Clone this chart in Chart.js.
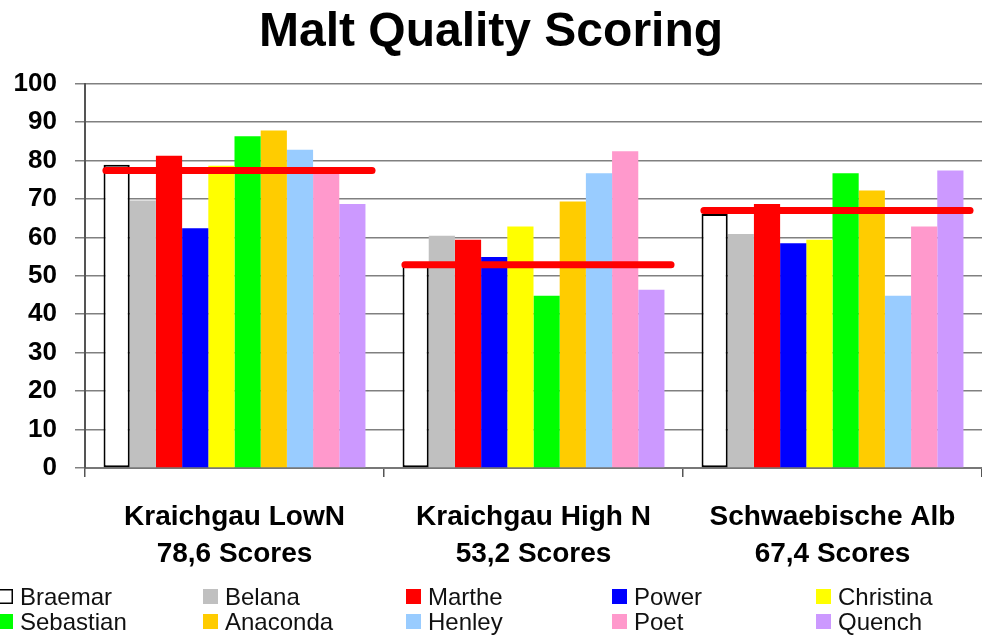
<!DOCTYPE html>
<html>
<head>
<meta charset="utf-8">
<title>Malt Quality Scoring</title>
<script src="https://cdn.jsdelivr.net/npm/chart.js@4.4.1/dist/chart.umd.min.js"></script>
<style>
  html, body { margin: 0; padding: 0; background: #fff; }
  #wrap { width: 982px; height: 637px; }
</style>
</head>
<body>
<div id="wrap"><canvas id="malt"></canvas></div>
<script>
// categories (locations) and the mean score written under each one
const categories = ["Kraichgau LowN", "Kraichgau High N", "Schwaebische Alb"];
const scoreLabels = ["78,6 Scores", "53,2 Scores", "67,4 Scores"];
// level of the red mean line, as drawn in the picture
const scoreLevels = [77.4, 52.9, 67.0];
const yTicks = [0, 10, 20, 30, 40, 50, 60, 70, 80, 90, 100];

// one value per location, per variety
const braemar   = [78.9, 53.3, 66.1];
const belana    = [69.6, 60.4, 60.9];
const marthe    = [81.2, 59.4, 68.7];
const power     = [62.4, 54.9, 58.5];
const christina = [78.6, 62.8, 59.4];
const sebastian = [86.3, 44.8, 76.7];
const anaconda  = [87.8, 69.3, 72.2];
const henley    = [82.8, 76.7, 44.8];
const poet      = [76.5, 82.4, 62.8];
const quench    = [68.7, 46.4, 77.4];

const varieties = [
    { label: "Braemar",   data: braemar,   color: "#ffffff", border: "#000000" },
    { label: "Belana",    data: belana,    color: "#c0c0c0" },
    { label: "Marthe",    data: marthe,    color: "#ff0000" },
    { label: "Power",     data: power,     color: "#0000ff" },
    { label: "Christina", data: christina, color: "#ffff00" },
    { label: "Sebastian", data: sebastian, color: "#00ff00" },
    { label: "Anaconda",  data: anaconda,  color: "#ffcc00" },
    { label: "Henley",    data: henley,    color: "#99ccff" },
    { label: "Poet",      data: poet,      color: "#ff99cc" },
    { label: "Quench",    data: quench,    color: "#cc99ff" }
];

// ===== red mean line per location =====
const meanLinePlugin = {
    id: "meanLine",
    afterDatasetsDraw(chart) {
        const { ctx, scales: { x, y } } = chart;
        const w = x.width / categories.length;
        ctx.save();
        ctx.strokeStyle = "#ff0000";
        ctx.lineWidth = 7;
        ctx.lineCap = "round";
        scoreLevels.forEach((v, i) => {
            const cx = x.getPixelForValue(i);
            const py = y.getPixelForValue(v);
            ctx.beginPath();
            ctx.moveTo(cx - w * 0.43, py);
            ctx.lineTo(cx + w * 0.46, py);
            ctx.stroke();
        });
        ctx.restore();
    }
};

// ===== 5-column legend grid under the axis =====
const gridLegendPlugin = {
    id: "gridLegend",
    afterDraw(chart) {
        const { ctx } = chart;
        const colX = [-2, 203, 406, 612, 816];
        const rowY = [597, 622];
        ctx.save();
        ctx.font = "24px 'Liberation Sans', Arial, sans-serif";
        ctx.textBaseline = "middle";
        ctx.textAlign = "left";
        chart.data.datasets.forEach((ds, i) => {
            const bx = colX[i % 5];
            const by = rowY[Math.floor(i / 5)];
            ctx.fillStyle = ds.backgroundColor;
            ctx.fillRect(bx, by - 8, 15, 15);
            if (ds.borderWidth) {
                ctx.strokeStyle = "#000";
                ctx.lineWidth = 1.5;
                ctx.strokeRect(bx + 0.75, by - 7.25, 13.5, 13.5);
            }
            ctx.fillStyle = "#111";
            ctx.fillText(ds.label, bx + 22, by + 1);
        });
        ctx.restore();
    }
};

new Chart(document.getElementById("malt").getContext("2d"), {
    type: "bar",
    data: {
        labels: categories.map((c, i) => [c, scoreLabels[i]]),
        datasets: varieties.map(v => ({
            label: v.label,
            data: v.data,
            backgroundColor: v.color,
            borderColor: v.border || v.color,
            borderWidth: v.border ? 2 : 0,
            borderSkipped: false,
            categoryPercentage: 0.876,
            barPercentage: 1.0
        }))
    },
    options: {
        responsive: true,
        maintainAspectRatio: false,
        animation: false,
        layout: { padding: 0 },
        plugins: {
            legend: { display: false },
            tooltip: { enabled: false },
            title: {
                display: true,
                text: "Malt Quality Scoring",
                color: "#000",
                font: { family: "'Liberation Sans', Arial, sans-serif", size: 48, weight: "bold", lineHeight: 1.2 },
                padding: { top: 4, bottom: 22 }
            }
        },
        scales: {
            x: {
                grid: { display: true, drawOnChartArea: false, offset: true, color: "#555", lineWidth: 1.5, tickLength: 9 },
                border: { color: "#777", width: 2 },
                ticks: {
                    color: "#000",
                    padding: 22,
                    maxRotation: 0,
                    font: { family: "'Liberation Sans', Arial, sans-serif", size: 28, weight: "bold", lineHeight: 1.32 }
                },
                afterFit(scale) { scale.height = 169; }
            },
            y: {
                min: 0,
                max: 100,
                afterBuildTicks(scale) { scale.ticks = yTicks.map(v => ({ value: v })); },
                grid: { color: "#808080", lineWidth: 1.5, tickLength: 10 },
                border: { color: "#555", width: 2 },
                ticks: {
                    color: "#000",
                    padding: 18,
                    font: { family: "'Liberation Sans', Arial, sans-serif", size: 26, weight: "bold" }
                },
                afterFit(scale) { scale.width = 85; }
            }
        }
    },
    plugins: [meanLinePlugin, gridLegendPlugin]
});
</script>
</body>
</html>
